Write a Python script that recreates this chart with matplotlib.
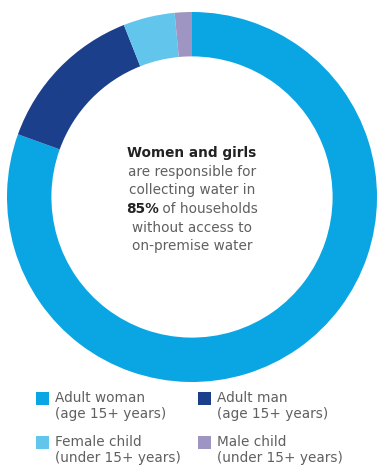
import matplotlib
matplotlib.use('Agg')
import matplotlib.pyplot as plt
from matplotlib.patches import Rectangle

# share of households, clockwise from 12 o'clock
labels = ['Adult woman\n(age 15+ years)', 'Adult man\n(age 15+ years)',
          'Female child\n(under 15+ years)', 'Male child\n(under 15+ years)']
values = [80.5, 13.5, 4.5, 1.5]
colors = ['#0aa6e3', '#1c3f8c', '#62c6ec', '#9e95c2']

W, H = 377, 466
fig = plt.figure(figsize=(W / 100, H / 100), dpi=100)
fig.patch.set_facecolor('white')

# donut
cx, cy, r = 192, 197, 185
ax = fig.add_axes([(cx - r) / W, (H - cy - r) / H, 2 * r / W, 2 * r / H])
ax.pie(values, colors=colors, startangle=90, counterclock=False,
       wedgeprops=dict(width=0.24, linewidth=0))
ax.set_xlim(-1, 1)
ax.set_ylim(-1, 1)
ax.set_aspect('equal')
ax.axis('off')

# centre text
grey = '#606060'
dark = '#222222'
fs = 9.8
line_y = [153, 172, 190, 209, 228, 246]
fig.text(cx / W, 1 - line_y[0] / H, 'Women and girls', ha='center', va='center',
         fontsize=fs, fontweight='bold', color=dark)
fig.text(cx / W, 1 - line_y[1] / H, 'are responsible for', ha='center', va='center',
         fontsize=fs, color=grey)
fig.text(cx / W, 1 - line_y[2] / H, 'collecting water in', ha='center', va='center',
         fontsize=fs, color=grey)

# mixed bold / regular line
fig.canvas.draw()
rend = fig.canvas.get_renderer()
t1 = fig.text(0, 1 - line_y[3] / H, '85%', ha='left', va='center',
              fontsize=fs, fontweight='bold', color=dark)
t2 = fig.text(0, 1 - line_y[3] / H, ' of households', ha='left', va='center',
              fontsize=fs, color=grey)
w1 = t1.get_window_extent(rend).width
w2 = t2.get_window_extent(rend).width
x0 = cx - (w1 + w2) / 2
t1.set_x(x0 / W)
t2.set_x((x0 + w1) / W)

fig.text(cx / W, 1 - line_y[4] / H, 'without access to', ha='center', va='center',
         fontsize=fs, color=grey)
fig.text(cx / W, 1 - line_y[5] / H, 'on-premise water', ha='center', va='center',
         fontsize=fs, color=grey)

# legend
col_x = [36, 198]
row_y = [392, 436]
for i, (lab, c) in enumerate(zip(labels, colors)):
    lx = col_x[i % 2]
    ly = row_y[i // 2]
    fig.patches.append(Rectangle((lx / W, 1 - (ly + 13) / H), 13 / W, 13 / H,
                                 transform=fig.transFigure, facecolor=c,
                                 edgecolor='none'))
    fig.text((lx + 19) / W, 1 - (ly - 1) / H, lab, ha='left', va='top',
             fontsize=9.8, color=grey, linespacing=1.2)

fig.savefig('out.png', dpi=100, facecolor='white')
